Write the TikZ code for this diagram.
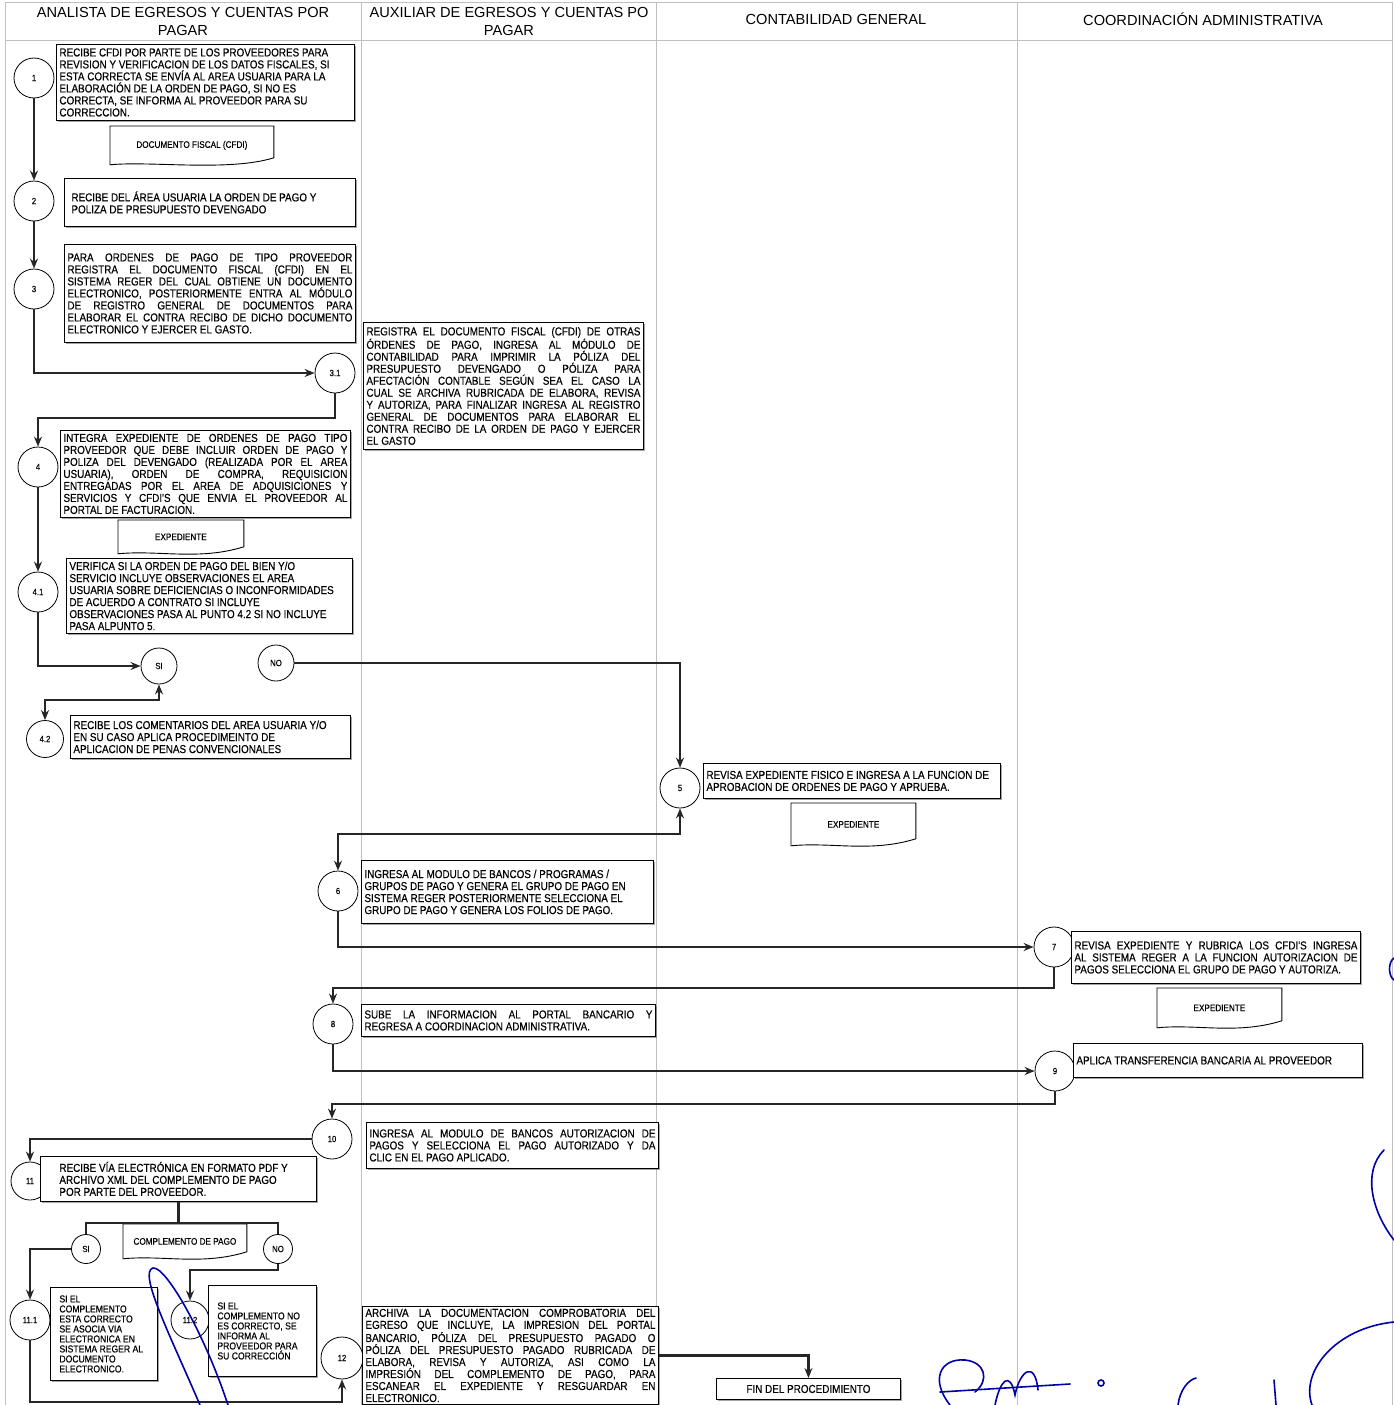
\documentclass[tikz,border=0pt]{standalone}
\usepackage{fontspec}
\setmainfont{Liberation Sans}
\newfontfamily\boxfont{Liberation Sans}[FakeStretch=0.86,FakeBold=0.3]
\usetikzlibrary{shadows,arrows.meta}

% one justified line of a box
\newcommand{\jline}[1]{\noindent\hbox to \hsize{\spaceskip=.278em plus 1fil\relax #1}}
% outline of a document symbol round a node
\newcommand{\docoutline}[1]{%
  \draw[doc line] (#1.north west) -- (#1.north east) -- ([yshift=7pt]#1.south east)
    .. controls +(-45pt,-14pt) and +(40pt,4pt) .. (#1.south west) -- cycle;}

\begin{document}
\begin{tikzpicture}[x=1pt,y=-1pt,>={Stealth[length=10pt,width=8pt]},thick,
    main node/.style={circle,draw,fill=white,line width=0.8pt,minimum size=40pt,inner sep=0pt,font=\boxfont\fontsize{9}{10}\selectfont},
    small node/.style={main node,minimum size=32pt},
    task node/.style={draw,fill=white,line width=0.9pt,anchor=north west,inner xsep=3pt,inner ysep=1pt,align=flush left,
        font=\boxfont\fontsize{11.5}{12}\selectfont,drop shadow={shadow xshift=1.4pt,shadow yshift=-1.4pt,fill=black!70}},
    small text/.style={font=\boxfont\fontsize{10}{10}\selectfont},
    doc node/.style={anchor=north west,inner sep=0pt,font=\boxfont\fontsize{9.5}{10}\selectfont},
    doc line/.style={line width=0.9pt},
    head node/.style={align=center,font=\fontsize{14.6}{18}\selectfont},
    lane line/.style={gray!50,line width=0.4pt},
    flow/.style={line width=2.2pt,black!85},
    sign/.style={blue!65!black,line width=1.6pt,line cap=round}]

    \useasboundingbox (0,0) rectangle (1394,1405);

    % lanes
    \foreach \x in {5,361,656,1017,1392}
        \draw[lane line] (\x,2) -- (\x,1405);
    \draw[lane line] (5,2) -- (1392,2);
    \draw[lane line] (5,40) -- (1392,40);

    \node[head node] (h1) at (183,21) {ANALISTA DE EGRESOS Y CUENTAS POR\\PAGAR};
    \node[head node] (h2) at (509,21) {AUXILIAR DE EGRESOS Y CUENTAS PO\\PAGAR};
    \node[head node] (h3) at (836,19) {CONTABILIDAD GENERAL};
    \node[head node] (h4) at (1203,19) {COORDINACIÓN ADMINISTRATIVA};

    % steps
    \node[main node] (1) at (34,78) {1};
    \node[main node] (2) at (34,201) {2};
    \node[main node] (3) at (34,289) {3};
    \node[main node] (31) at (335,373) {3.1};
    \node[main node] (4) at (38,467) {4};
    \node[main node] (41) at (38,592) {4.1};
    \node[small node,minimum size=36pt] (si) at (159,666) {SI};
    \node[small node,minimum size=36pt] (no) at (276,663) {NO};
    \node[main node,minimum size=37pt] (42) at (45,739) {4.2};
    \node[main node] (5) at (680,788) {5};
    \node[main node] (6) at (338,891) {6};
    \node[main node] (7) at (1054,947) {7};
    \node[main node] (8) at (333,1024) {8};
    \node[main node] (9) at (1055,1071) {9};
    \node[main node] (10) at (332,1139) {10};
    \node[main node,minimum size=38pt] (11) at (30,1181) {11};
    \node[small node,minimum size=29pt] (si11) at (86,1249) {SI};
    \node[small node,minimum size=29pt] (no11) at (278,1249) {NO};
    \node[main node] (111) at (30,1320) {11.1};
    \node[main node,minimum size=38pt] (112) at (190,1320) {11.2};
    \node[main node,minimum size=42pt] (12) at (342,1358) {12};

    % activities
    \node[task node,text width=292pt,minimum height=76pt] (t1) at (56,44)
        {RECIBE CFDI POR PARTE DE LOS PROVEEDORES PARA\\
         REVISION Y VERIFICACION DE LOS DATOS FISCALES, SI\\
         ESTA CORRECTA SE ENVÍA AL AREA USUARIA PARA LA\\
         ELABORACIÓN DE LA ORDEN DE PAGO, SI NO ES\\
         CORRECTA, SE INFORMA AL PROVEEDOR PARA SU\\
         CORRECCION.};
    \node[task node,text width=285pt,minimum height=48pt] (t2) at (64,178)
        {\hspace*{4pt}RECIBE DEL ÁREA USUARIA LA ORDEN DE PAGO Y\\
         \hspace*{4pt}POLIZA DE PRESUPUESTO DEVENGADO};
    \node[task node,text width=285pt,minimum height=98pt] (t3) at (64,244)
        {\jline{PARA ORDENES DE PAGO DE TIPO PROVEEDOR}\\
         \jline{REGISTRA EL DOCUMENTO FISCAL (CFDI) EN EL}\\
         \jline{SISTEMA REGER DEL CUAL OBTIENE UN DOCUMENTO}\\
         \jline{ELECTRONICO, POSTERIORMENTE ENTRA AL MÓDULO}\\
         \jline{DE REGISTRO GENERAL DE DOCUMENTOS PARA}\\
         \jline{ELABORAR EL CONTRA RECIBO DE DICHO DOCUMENTO}\\
         ELECTRONICO Y EJERCER EL GASTO.};
    \node[task node,text width=274pt,minimum height=127pt] (t31) at (363,322)
        {\jline{REGISTRA EL DOCUMENTO FISCAL (CFDI) DE OTRAS}\\
         \jline{ÓRDENES DE PAGO, INGRESA AL MÓDULO DE}\\
         \jline{CONTABILIDAD PARA IMPRIMIR LA PÓLIZA DEL}\\
         \jline{PRESUPUESTO DEVENGADO O PÓLIZA PARA}\\
         \jline{AFECTACIÓN CONTABLE SEGÚN SEA EL CASO LA}\\
         \jline{CUAL SE ARCHIVA RUBRICADA DE ELABORA, REVISA}\\
         \jline{Y AUTORIZA, PARA FINALIZAR INGRESA AL REGISTRO}\\
         \jline{GENERAL DE DOCUMENTOS PARA ELABORAR EL}\\
         \jline{CONTRA RECIBO DE LA ORDEN DE PAGO Y EJERCER}\\
         EL GASTO};
    \node[task node,text width=284pt,minimum height=87pt] (t4) at (60,430)
        {\jline{INTEGRA EXPEDIENTE DE ORDENES DE PAGO TIPO}\\
         \jline{PROVEEDOR QUE DEBE INCLUIR ORDEN DE PAGO Y}\\
         \jline{POLIZA DEL DEVENGADO (REALIZADA POR EL AREA}\\
         \jline{USUARIA), ORDEN DE COMPRA, REQUISICION}\\
         \jline{ENTREGADAS POR EL AREA DE ADQUISICIONES Y}\\
         \jline{SERVICIOS Y CFDI'S QUE ENVIA EL PROVEEDOR AL}\\
         PORTAL DE FACTURACION.};
    \node[task node,text width=280pt,minimum height=75pt] (t41) at (66,558)
        {VERIFICA SI LA ORDEN DE PAGO DEL BIEN Y/O\\
         SERVICIO INCLUYE OBSERVACIONES EL AREA\\
         USUARIA SOBRE DEFICIENCIAS O INCONFORMIDADES\\
         DE ACUERDO A CONTRATO SI INCLUYE\\
         OBSERVACIONES PASA AL PUNTO 4.2 SI NO INCLUYE\\
         PASA ALPUNTO 5.};
    \node[task node,text width=274pt,minimum height=43pt] (t42) at (70,715)
        {RECIBE LOS COMENTARIOS DEL AREA USUARIA Y/O\\
         EN SU CASO APLICA PROCEDIMEINTO DE\\
         APLICACION DE PENAS CONVENCIONALES};
    \node[task node,text width=291pt,minimum height=35pt] (t5) at (703,763)
        {REVISA EXPEDIENTE FISICO E INGRESA A LA FUNCION DE\\
         APROBACION DE ORDENES DE PAGO Y APRUEBA.};
    \node[task node,text width=286pt,minimum height=63pt] (t6) at (361,860)
        {INGRESA AL MODULO DE BANCOS / PROGRAMAS /\\
         GRUPOS DE PAGO Y GENERA EL GRUPO DE PAGO EN\\
         SISTEMA REGER POSTERIORMENTE SELECCIONA EL\\
         GRUPO DE PAGO Y GENERA LOS FOLIOS DE PAGO.};
    \node[task node,text width=283pt,minimum height=52pt] (t7) at (1071,931)
        {\jline{REVISA EXPEDIENTE Y RUBRICA LOS CFDI'S INGRESA}\\
         \jline{AL SISTEMA REGER A LA FUNCION AUTORIZACION DE}\\
         PAGOS SELECCIONA EL GRUPO DE PAGO Y AUTORIZA.};
    \node[task node,text width=288pt,minimum height=32pt] (t8) at (361,1004)
        {\jline{SUBE LA INFORMACION AL PORTAL BANCARIO Y}\\
         REGRESA A COORDINACION ADMINISTRATIVA.};
    \node[task node,text width=283pt,minimum height=34pt] (t9) at (1073,1043)
        {APLICA TRANSFERENCIA BANCARIA AL PROVEEDOR};
    \node[task node,text width=286pt,minimum height=46pt] (t10) at (366,1122)
        {\jline{INGRESA AL MODULO DE BANCOS AUTORIZACION DE}\\
         \jline{PAGOS Y SELECCIONA EL PAGO AUTORIZADO Y DA}\\
         CLIC EN EL PAGO APLICADO.};
    \node[task node,text width=270pt,minimum height=45pt] (t11) at (40,1156)
        {\hspace*{16pt}RECIBE VÍA ELECTRÓNICA EN FORMATO PDF Y\\
         \hspace*{16pt}ARCHIVO XML DEL COMPLEMENTO DE PAGO\\
         \hspace*{16pt}POR PARTE DEL PROVEEDOR.};
    \node[task node,small text,text width=101pt,minimum height=93pt] (t111) at (50,1287)
        {\hspace*{6pt}SI EL\\ \hspace*{6pt}COMPLEMENTO\\ \hspace*{6pt}ESTA CORRECTO\\ \hspace*{6pt}SE ASOCIA VIA\\
         \hspace*{6pt}ELECTRONICA EN\\ \hspace*{6pt}SISTEMA REGER AL\\ \hspace*{6pt}DOCUMENTO\\ \hspace*{6pt}ELECTRONICO.};
    \node[task node,small text,text width=102pt,minimum height=91pt] (t112) at (208,1285)
        {\hspace*{6pt}SI EL\\ \hspace*{6pt}COMPLEMENTO NO\\ \hspace*{6pt}ES CORRECTO, SE\\ \hspace*{6pt}INFORMA AL\\
         \hspace*{6pt}PROVEEDOR PARA\\ \hspace*{6pt}SU CORRECCIÓN\par\vspace{22pt}};
    \node[task node,text width=290pt,minimum height=98pt] (t12) at (362,1306)
        {\jline{ARCHIVA LA DOCUMENTACION COMPROBATORIA DEL}\\
         \jline{EGRESO QUE INCLUYE, LA IMPRESION DEL PORTAL}\\
         \jline{BANCARIO, PÓLIZA DEL PRESUPUESTO PAGADO O}\\
         \jline{PÓLIZA DEL PRESUPUESTO PAGADO RUBRICADA DE}\\
         \jline{ELABORA, REVISA Y AUTORIZA, ASI COMO LA}\\
         \jline{IMPRESIÓN DEL COMPLEMENTO DE PAGO, PARA}\\
         \jline{ESCANEAR EL EXPEDIENTE Y RESGUARDAR EN}\\
         ELECTRONICO.};
    \node[task node,align=flush center,text width=178pt,minimum height=21pt,drop shadow={opacity=0}] (fin) at (716,1378)
        {FIN DEL PROCEDIMIENTO};

    % documents
    \node[doc node,minimum width=163pt,minimum height=38pt] (d1) at (110,126) {DOCUMENTO FISCAL (CFDI)};
    \node[doc node,minimum width=125pt,minimum height=33pt] (d4) at (118,520) {EXPEDIENTE};
    \node[doc node,minimum width=124pt,minimum height=42pt] (d5) at (791,803) {EXPEDIENTE};
    \node[doc node,minimum width=124pt,minimum height=39pt] (d7) at (1157,988) {EXPEDIENTE};
    \node[doc node,minimum width=123pt,minimum height=34pt] (d11) at (123,1224) {COMPLEMENTO DE PAGO};
    \docoutline{d1}
    \docoutline{d4}
    \docoutline{d5}
    \docoutline{d7}
    \docoutline{d11}

    % flow
    \draw[flow,->] (1) -- (2);
    \draw[flow,->] (2) -- (3);
    \draw[flow,->] (3) |- (31);
    \draw[flow,->] (31) -- ++(0,45) -| (4);
    \draw[flow,->] (4) -- (41);
    \draw[flow,->] (41) |- (si);
    \draw[flow,<->] (si) -- ++(0,34) -| (42);
    \draw[flow,->] (no) -| (5);
    \draw[flow,<->] (5) -- ++(0,46) -| (6);
    \draw[flow,->] (6) |- (7);
    \draw[flow,->] (7) -- ++(0,41) -| (8);
    \draw[flow,->] (8) |- (9);
    \draw[flow,->] (9) -- ++(0,33) -| (10);
    \draw[flow,->] (10) -| (11);
    \coordinate (br) at ([yshift=-21pt]t11.south);
    \draw[flow] (t11) -- (br);
    \draw[flow] (si11) |- (br) -| (no11);
    \draw[flow,->] (si11) -| (111);
    \draw[flow,->] (no11) -- ++(0,21) -| (112);
    \draw[flow,->] (111) -- ++(0,82) -| (12);
    \draw[flow,->] (t12) -| (fin);

    % signatures
    \draw[sign] (200,1405) .. controls (170,1335) and (138,1272) .. (153,1268)
        .. controls (166,1266) and (205,1335) .. (228,1405);
    \draw[sign] (1384,1150) .. controls (1362,1172) and (1372,1212) .. (1394,1240);
    \draw[sign] (1394,1322) .. controls (1335,1328) and (1300,1372) .. (1312,1405);
    \draw[sign] (1394,958) .. controls (1388,962) and (1388,976) .. (1394,980);
    \draw[sign] (950,1405) .. controls (930,1380) and (940,1358) .. (965,1360)
        .. controls (985,1362) and (990,1380) .. (975,1392);
    \draw[sign] (940,1392) -- (1070,1384);
    \draw[sign] (995,1405) .. controls (1000,1380) and (1010,1370) .. (1015,1395)
        .. controls (1020,1370) and (1035,1360) .. (1038,1390);
    \draw[sign] (1101,1383) circle (3pt);
    \draw[sign] (1178,1405) .. controls (1180,1390) and (1188,1380) .. (1196,1378);
    \draw[sign] (1274,1380) -- (1276,1405);
\end{tikzpicture}
\end{document}
